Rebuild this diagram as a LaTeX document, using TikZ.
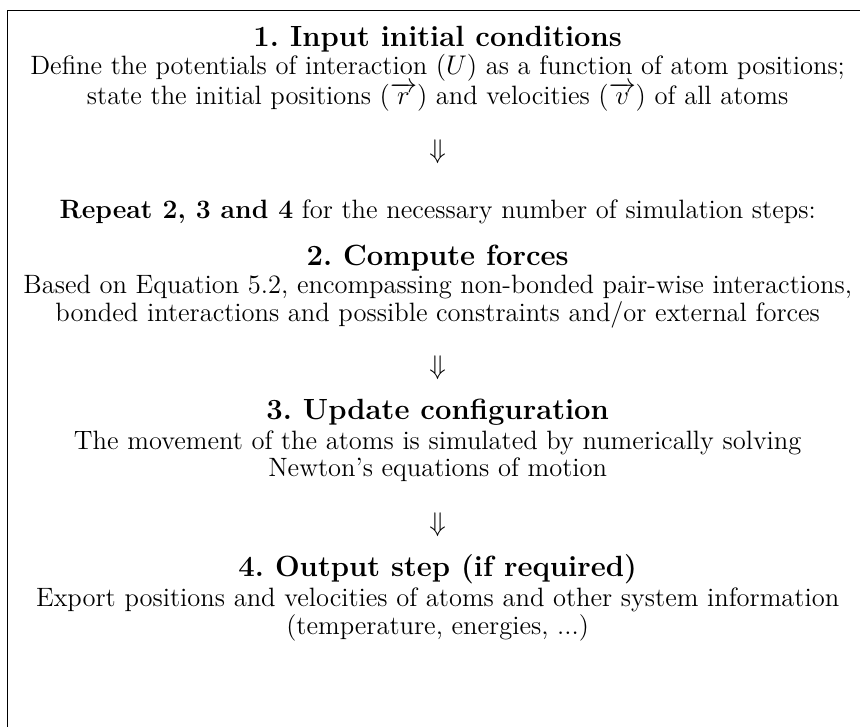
\documentclass[tikz,border=0pt]{standalone}
\usepackage{amsmath}

\begin{document}
\begin{tikzpicture}[
    title/.style={font=\fontsize{13}{15.5}\selectfont\bfseries},
    body/.style={align=center, font=\fontsize{11.8}{12.4}\selectfont},
    down/.style={font=\fontsize{11.8}{12.4}\selectfont}]
    \useasboundingbox (0,0) rectangle (13.44,-11.36);
    \draw (0.11,-11.36) -- (0.11,-0.17) -- (13.44,-0.17);
    \node[title] (input) at (6.84,-0.61) {1.\ Input initial conditions};
    \node[body] (inputtxt) at (6.84,-1.29) {Define the potentials of interaction $(U)$ as a function of atom positions;\\
      state the initial positions $(\overrightarrow{r})$ and velocities $(\overrightarrow{v})$ of all atoms};
    \node[down] (arrowa) at (6.84,-2.375) {$\Downarrow$};
    \node[body] (repeat) at (6.84,-3.31) {\textbf{Repeat 2, 3 and 4} for the necessary number of simulation steps:};
    \node[title] (forces) at (6.84,-4.03) {2.\ Compute forces};
    \node[body] (forcestxt) at (6.84,-4.71) {Based on Equation 5.2, encompassing non-bonded pair-wise interactions,\\
      bonded interactions and possible constraints and/or external forces};
    \node[down] (arrowb) at (6.84,-5.75) {$\Downarrow$};
    \node[title] (update) at (6.84,-6.44) {3.\ Update configuration};
    \node[body] (updatetxt) at (6.84,-7.13) {The movement of the atoms is simulated by numerically solving\\
      Newton's equations of motion};
    \node[down] (arrowc) at (6.84,-8.20) {$\Downarrow$};
    \node[title] (output) at (6.84,-8.89) {4.\ Output step (if required)};
    \node[body] (outputtxt) at (6.84,-9.60) {Export positions and velocities of atoms and other system information\\
      (temperature, energies, ...)};
  \end{tikzpicture}
\end{document}
